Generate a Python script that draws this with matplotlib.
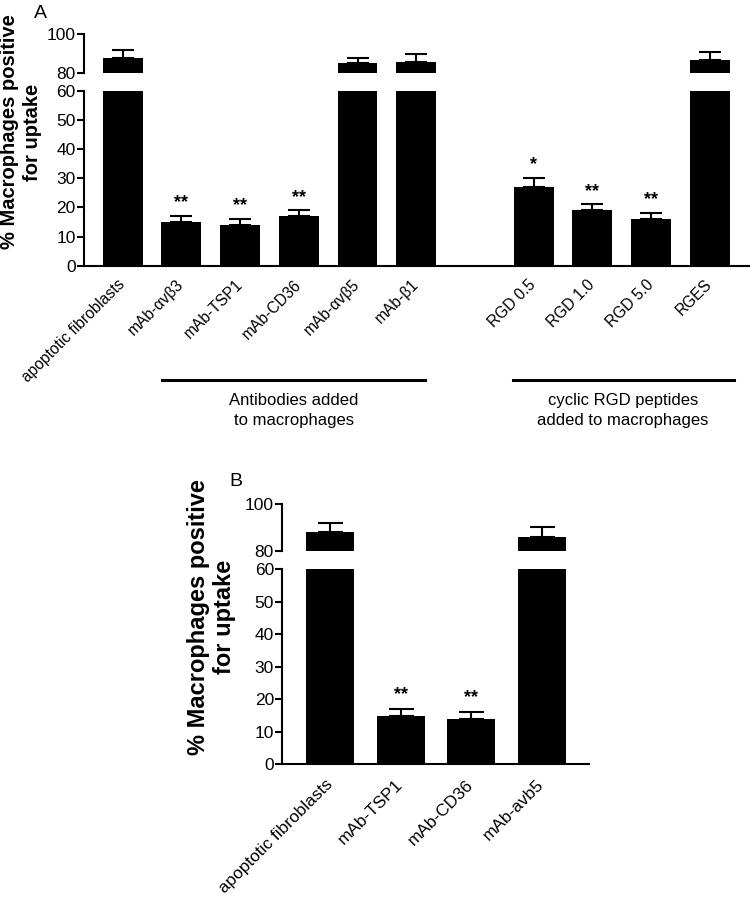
import numpy as np
import matplotlib.pyplot as plt
from matplotlib.transforms import blended_transform_factory

plt.rcParams['font.family'] = ['Liberation Sans', 'DejaVu Sans']

# ---- panel A data ----
labels_a = ['apoptotic fibroblasts', 'mAb-αvβ3', 'mAb-TSP1', 'mAb-CD36',
            'mAb-αvβ5', 'mAb-β1', 'RGD 0.5', 'RGD 1.0', 'RGD 5.0', 'RGES']
group_a = [0, 0, 0, 0, 0, 0, 1, 1, 1, 1]
values_a = [88, 15, 14, 17, 85, 86, 27, 19, 16, 87]
errors_a = [4, 2, 2, 2, 3, 4, 3, 2, 2, 4]
stars_a = ['', '**', '**', '**', '', '', '*', '**', '**', '']

# ---- panel B data ----
labels_b = ['apoptotic fibroblasts', 'mAb-TSP1', 'mAb-CD36', 'mAb-avb5']
values_b = [88, 15, 14, 86]
errors_b = [4, 2, 2, 4]
stars_b = ['', '**', '**', '']

YLABEL = ['% Macrophages positive', 'for uptake']
W, H = 750, 900


def fr(px_left, px_top, px_right, px_bottom):
    # pixel box -> figure fraction rect
    return [px_left / W, 1 - px_bottom / H, (px_right - px_left) / W, (px_bottom - px_top) / H]


def broken_bars(fig, rect_top, rect_bot, x, vals, errs, stars, labels, xlim,
                capsize, star_off, label_size, label_pad):
    ax_t = fig.add_axes(rect_top)
    ax_b = fig.add_axes(rect_bot)
    vals = np.array(vals, dtype=float)
    errs = np.array(errs, dtype=float)
    for ax in (ax_t, ax_b):
        ax.bar(x, vals, width=0.68, color='black')
        ax.set_xlim(*xlim)
        for s in ['top', 'right']:
            ax.spines[s].set_visible(False)
        ax.spines['left'].set_linewidth(1.5)
        ax.tick_params(axis='y', length=5, width=1.5, labelsize=12.5, pad=1)
    hi = vals > 60
    ax_t.errorbar(x[hi], vals[hi], yerr=[np.zeros(hi.sum()), errs[hi]], fmt='none',
                  ecolor='black', elinewidth=1.5, capsize=capsize, capthick=1.5)
    ax_b.errorbar(x[~hi], vals[~hi], yerr=[np.zeros((~hi).sum()), errs[~hi]], fmt='none',
                  ecolor='black', elinewidth=1.5, capsize=capsize, capthick=1.5)
    ax_t.set_ylim(80, 100)
    ax_t.set_yticks([80, 100])
    ax_t.spines['bottom'].set_visible(False)
    ax_t.set_xticks([])
    ax_b.set_ylim(0, 60)
    ax_b.set_yticks(range(0, 61, 10))
    ax_b.spines['bottom'].set_linewidth(1.5)
    ax_b.set_xticks(x)
    ax_b.set_xticklabels(labels, rotation=45, ha='right', va='center',
                         rotation_mode='anchor', fontsize=label_size)
    ax_b.tick_params(axis='x', length=0, pad=label_pad)
    for xi, v, e, s in zip(x, vals, errs, stars):
        if s:
            ax_b.text(xi, v + e + star_off, s, ha='center', va='center',
                      fontsize=13, fontweight='bold')
    return ax_t, ax_b


def ylabel(fig, x1, x2, yc, size):
    # two-line rotated label, one text per line
    fig.text(x1 / W, 1 - yc / H, YLABEL[0], rotation=90, ha='center', va='center',
             fontsize=size, fontweight='bold')
    fig.text(x2 / W, 1 - yc / H, YLABEL[1], rotation=90, ha='center', va='center',
             fontsize=size, fontweight='bold')


fig = plt.figure(figsize=(7.5, 9), dpi=100)

# panel A
x_a = np.arange(len(values_a)) + np.array(group_a)
axa_t, axa_b = broken_bars(fig, fr(84, 34, 749, 73.3), fr(84, 90.7, 749, 265.7),
                           x_a, values_a, errors_a, stars_a, labels_a,
                           (-0.66, 10.67), 8, 4.5, 11.2, 12)
tr = blended_transform_factory(axa_b.transData, axa_b.transAxes)
axa_b.plot([0.67, 5.15], [-0.653, -0.653], color='black', lw=2.2,
           transform=tr, clip_on=False)
axa_b.plot([6.65, 10.41], [-0.653, -0.653], color='black', lw=2.2,
           transform=tr, clip_on=False)
axa_b.text(2.91, -0.73, 'Antibodies added\nto macrophages', transform=tr,
           ha='center', va='top', fontsize=12, linespacing=1.35)
axa_b.text(8.52, -0.73, 'cyclic RGD peptides\nadded to macrophages', transform=tr,
           ha='center', va='top', fontsize=12, linespacing=1.35)
fig.text(40 / W, 1 - 14 / H, 'A', ha='center', va='center', fontsize=14)
ylabel(fig, 10, 33, 132, 14.5)

# panel B
x_b = np.arange(len(values_b))
axb_t, axb_b = broken_bars(fig, fr(282.3, 504, 589, 550.7), fr(282.3, 569.3, 589, 764.3),
                           x_b, values_b, errors_b, stars_b, labels_b,
                           (-0.68, 3.67), 9, 4.5, 12.4, 13)
fig.text(236 / W, 1 - 482 / H, 'B', ha='center', va='center', fontsize=14)
ylabel(fig, 198, 224, 617, 17)

fig.savefig('out.png', dpi=100, facecolor='white')
